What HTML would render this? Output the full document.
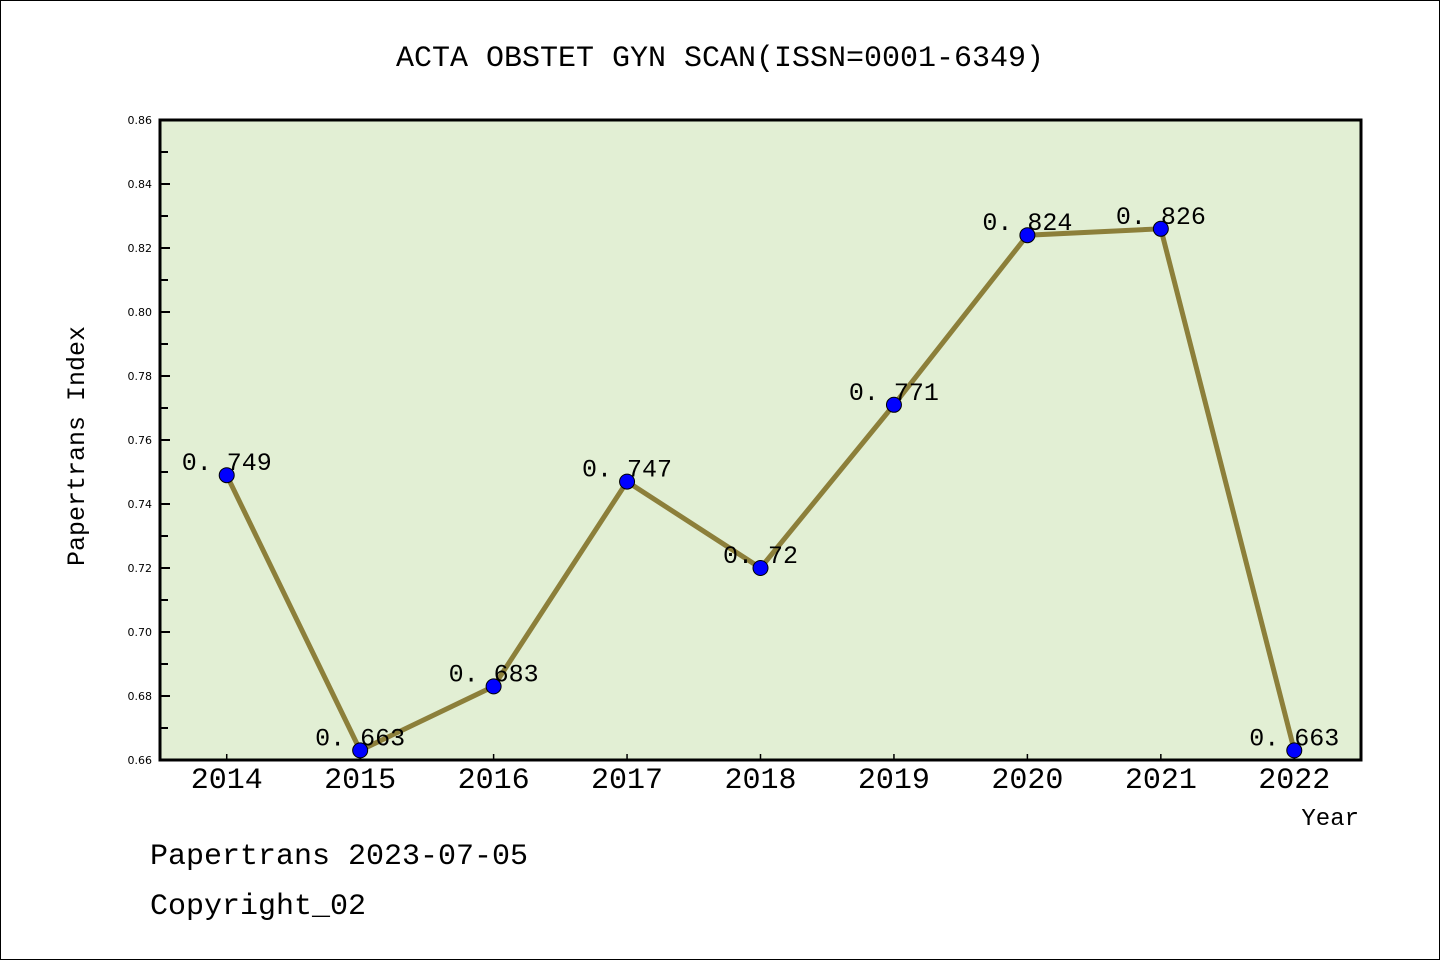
<!DOCTYPE html>
<html><head><meta charset="utf-8"><style>
html,body{margin:0;padding:0;background:#fff}
svg text{font-family:"Liberation Mono","WenQuanYi Zen Hei",monospace}
</style></head><body>
<svg width="1440" height="960" xmlns="http://www.w3.org/2000/svg">
<rect x="0.5" y="0.5" width="1439" height="959" fill="#fff" stroke="#000"/>
<text x="720" y="66" text-anchor="middle" font-size="30">ACTA OBSTET GYN SCAN(ISSN=0001-6349)</text>
<rect x="160" y="120" width="1201" height="640" fill="#e2efd4"/>
<g id="yaxis"></g><g id="xaxis"></g><g id="series"></g>
<rect x="160" y="120" width="1201" height="640" fill="none" stroke="#000" stroke-width="3"/>
<text transform="translate(84,446) rotate(-90)" text-anchor="middle" font-size="25">Papertrans Index</text>
<text x="1359" y="825" text-anchor="end" font-size="24">Year</text>
<text x="150" y="864" font-size="30">Papertrans 2023-07-05</text>
<text x="150" y="914" font-size="30">Copyright_02</text>
</svg>
<script>
const categories=["2014","2015","2016","2017","2018","2019","2020","2021","2022"];
const values=[0.749,0.663,0.683,0.747,0.72,0.771,0.824,0.826,0.663];
const valueLabels=["0.749","0.663","0.683","0.747","0.72","0.771","0.824","0.826","0.663"];
const yTicks=[0.66,0.68,0.70,0.72,0.74,0.76,0.78,0.80,0.82,0.84,0.86];
const NS="http://www.w3.org/2000/svg";
const L=160,R=1361,T=120,B=760,ymin=0.66,ymax=0.86;
const x=i=>L+(i+0.5)*(R-L)/categories.length;
const y=v=>B-(v-ymin)/(ymax-ymin)*(B-T);
function mk(t,a,p){const e=document.createElementNS(NS,t);for(const k in a)e.setAttribute(k,a[k]);p.appendChild(e);return e;}
const ya=document.getElementById('yaxis'),xa=document.getElementById('xaxis'),sg=document.getElementById('series');
yTicks.forEach((v,i)=>{
 const l=mk('line',{x1:L,x2:L+10,y1:y(v),y2:y(v),stroke:'#000','stroke-width':2},ya);
 
 
 const t=mk('text',{x:152,y:y(v)+4,'text-anchor':'end','font-size':11,style:'font-family:"DejaVu Sans",sans-serif'},ya);
 t.textContent=v.toFixed(2);
 
 
 if(i<yTicks.length-1){
  const m=mk('line',{x1:L,x2:L+8,y1:y(v+0.01),y2:y(v+0.01),stroke:'#000','stroke-width':2},ya);
  
  
 }
});
categories.forEach((c,i)=>{
 const l=mk('line',{x1:x(i),x2:x(i),y1:B,y2:B-6,stroke:'#000','stroke-width':1.5},xa);
 
 
 const t=mk('text',{x:x(i),y:B+28,'text-anchor':'middle','font-size':30},xa);
 t.textContent=c;
 
 
});
const pl=mk('polyline',{points:values.map((v,i)=>x(i)+','+y(v)).join(' '),fill:'none',stroke:'#8c7f3a','stroke-width':5},sg);


values.forEach((v,i)=>{
 const c=mk('circle',{cx:x(i),cy:y(v),r:7.5,fill:'#0000ff',stroke:'#000','stroke-width':1},sg);
 
 
 const t=mk('text',{x:x(i),y:y(v)-5,'text-anchor':'middle','font-size':25},sg);
 t.textContent=valueLabels[i].replace('.','. ');
 
 
});
</script>
</body></html>
